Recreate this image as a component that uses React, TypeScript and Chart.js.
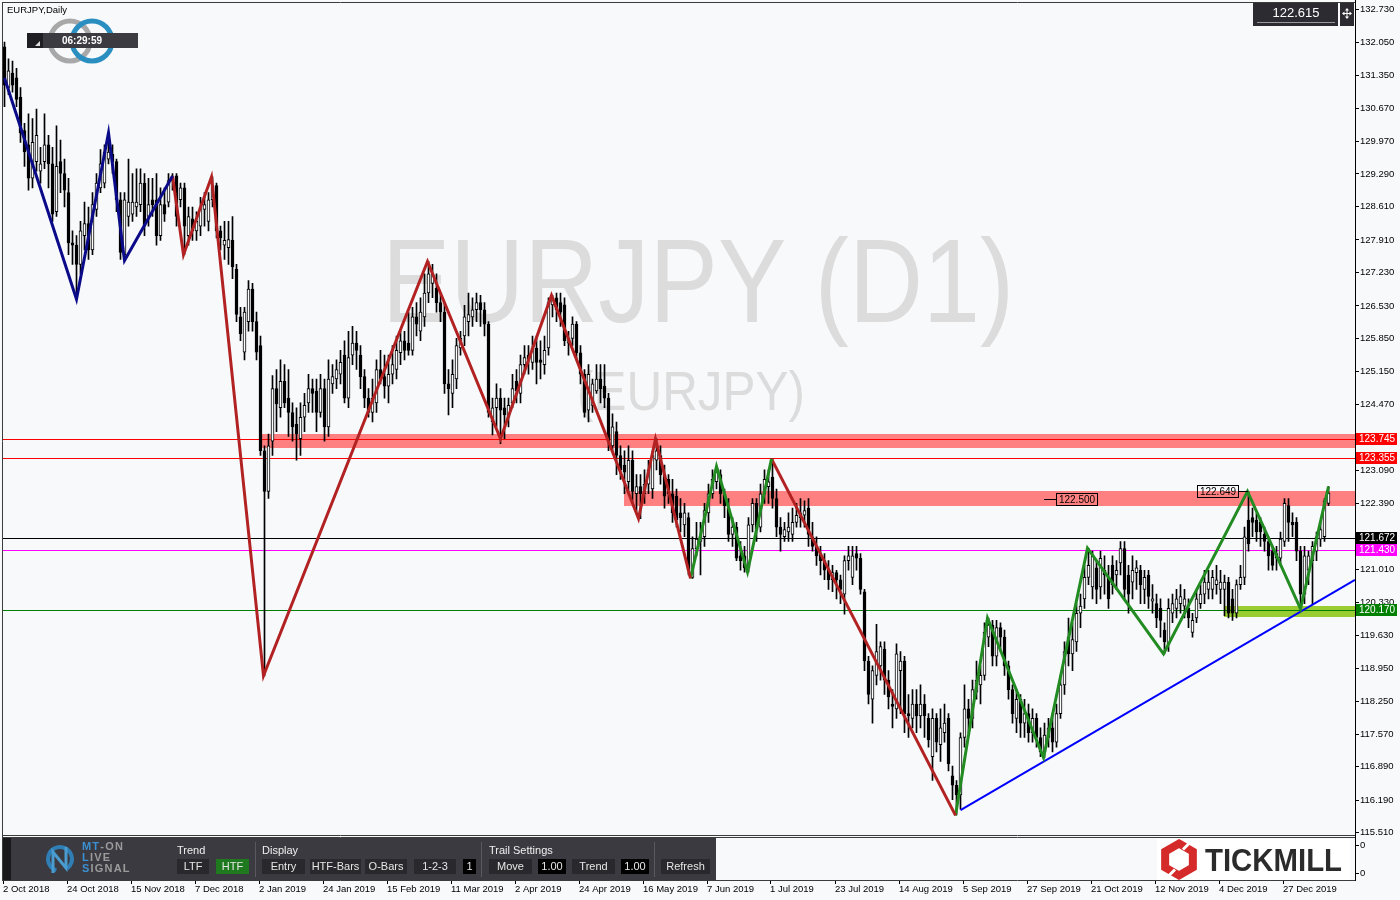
import React, { useEffect, useRef } from "react";
import { Chart, registerables } from "chart.js";

Chart.register(...registerables);

const symbolTitle = "EURJPY,Daily";
const watermarkMain = "EURJPY (D1)";
const watermarkSub = "(EURJPY)";
const clockText = "06:29:59";

// Daily candles, bar index 0 = 2 Oct 2018
const opens = [
  131.95,131.10,131.40,131.30,130.90,130.20,129.90,129.20,129.55,129.35,
  129.55,129.90,129.50,128.50,129.55,129.30,128.90,127.85,127.80,127.40,
  128.00,128.25,127.70,128.55,129.00,129.10,129.60,129.70,129.55,128.75,
  127.60,128.40,128.45,128.60,128.65,129.10,128.40,128.75,128.75,128.00,
  128.65,128.70,129.15,129.25,128.75,129.00,128.00,128.35,128.10,128.20,
  128.55,128.30,128.75,129.05,128.10,127.80,127.75,127.90,127.30,126.30,
  125.56,126.20,126.88,126.20,125.70,123.50,122.65,123.70,124.80,124.40,
  124.95,124.60,124.30,124.05,123.75,124.20,124.50,124.80,124.75,124.30,
  124.80,124.00,124.90,125.00,125.10,125.50,124.60,125.50,125.75,125.50,
  125.05,124.60,124.30,124.50,125.20,125.05,124.85,125.10,125.20,125.55,
  125.80,125.75,125.60,126.30,126.00,126.30,126.80,127.00,126.90,126.60,
  126.40,124.90,124.70,125.00,125.65,125.90,126.20,126.30,126.45,126.60,
  126.45,126.15,124.10,124.40,124.60,124.40,124.20,124.50,124.95,124.70,
  125.30,125.50,125.35,125.65,125.40,125.30,125.65,126.55,126.70,126.60,
  126.55,125.75,125.85,126.15,125.55,125.10,124.35,124.45,124.75,125.00,
  124.85,124.60,123.60,123.90,123.40,123.20,122.85,123.30,122.60,122.75,
  122.60,122.80,122.70,123.30,123.40,123.00,122.90,122.60,122.55,122.20,
  121.95,122.10,120.85,121.45,121.60,121.70,122.20,122.60,122.85,123.00,
  122.60,122.30,121.75,121.90,121.30,121.30,121.05,121.95,122.40,121.90,
  122.60,122.75,122.95,122.50,121.90,121.70,121.80,121.75,122.00,122.10,
  122.15,122.30,121.70,121.50,121.35,121.20,121.00,120.80,120.95,120.80,
  120.50,121.20,120.85,121.35,121.25,120.55,119.10,118.30,118.80,119.00,
  119.35,118.70,118.20,118.10,118.90,119.10,118.00,117.90,118.20,117.95,
  118.20,117.90,117.10,117.90,117.35,117.60,117.90,116.70,116.50,116.30,
  117.50,118.10,117.90,118.45,118.60,118.80,119.60,119.85,119.20,119.80,
  119.60,119.00,118.50,117.90,118.30,117.80,118.00,117.60,117.90,117.50,
  117.20,117.50,117.70,117.40,118.00,118.60,119.60,119.25,119.50,120.10,
  120.40,120.85,120.65,121.05,120.65,121.00,120.85,121.10,120.90,121.15,
  121.45,120.90,120.75,120.95,121.00,120.60,120.90,120.35,120.30,120.20,
  119.75,119.45,120.10,120.20,120.30,120.25,120.20,119.70,120.00,120.30,
  120.50,120.60,120.60,120.70,120.60,120.60,120.75,120.40,120.10,120.70,
  120.85,122.05,122.10,122.05,122.00,121.75,121.60,121.40,121.35,121.25,
  121.60,122.35,122.00,122.00,121.40,120.50,121.00,121.20,121.40,121.65,
  121.70,122.40,
];
const highs = [
  132.05,131.70,131.65,131.50,131.10,130.35,130.55,130.45,130.65,129.85,
  130.55,130.10,129.85,130.30,130.00,129.60,129.20,128.10,128.00,128.30,
  128.70,128.60,128.90,129.30,129.80,129.90,130.15,129.90,129.60,128.90,
  128.90,129.60,129.30,129.40,129.40,129.30,129.20,129.20,129.30,129.00,
  129.00,129.30,129.30,129.30,129.10,129.10,128.60,128.60,128.50,128.80,
  128.90,128.90,129.23,129.10,128.20,128.30,128.30,128.40,127.40,126.50,
  126.50,127.06,127.00,126.40,125.90,123.60,123.85,125.07,125.20,125.40,
  125.30,125.20,124.50,124.40,124.50,124.70,125.10,125.00,125.00,125.10,
  125.00,125.40,125.30,125.40,125.60,125.80,126.00,126.10,126.00,125.70,
  125.20,124.80,125.00,125.40,125.60,125.50,125.50,125.70,125.90,126.00,
  126.00,126.40,126.50,126.60,126.70,127.20,127.46,127.40,127.20,126.80,
  126.60,125.20,125.40,125.85,126.00,126.54,126.80,126.70,126.80,126.75,
  126.60,126.20,124.60,124.90,124.80,124.60,124.60,125.10,125.20,125.50,
  125.70,125.70,125.90,125.90,125.80,125.90,126.70,126.75,126.80,126.80,
  126.70,126.00,126.30,126.20,125.70,125.20,125.30,125.00,125.30,125.30,
  125.30,124.70,124.27,124.10,123.60,123.50,123.60,123.50,123.00,123.00,
  123.10,123.30,123.50,123.75,123.60,123.20,123.00,122.90,122.70,122.50,
  122.40,122.20,121.70,122.00,122.00,122.40,122.80,123.10,123.17,123.10,
  122.70,122.50,122.10,122.00,121.60,121.50,122.10,122.50,122.50,122.80,
  123.10,123.10,123.33,122.70,122.10,122.00,122.20,122.30,122.40,122.50,
  122.45,122.50,122.00,121.70,121.50,121.35,121.20,121.10,121.00,120.90,
  121.30,121.50,121.50,121.50,121.35,120.60,119.20,119.00,119.87,119.50,
  119.50,118.90,118.50,119.46,119.30,119.20,118.40,118.50,118.50,118.60,
  118.40,118.00,118.10,118.00,118.10,118.20,118.00,116.90,116.60,117.60,
  118.60,118.30,118.70,119.10,119.00,119.90,120.00,119.95,119.95,119.90,
  119.75,119.10,118.60,118.50,118.40,118.30,118.20,118.10,118.00,117.70,
  117.80,117.90,118.00,118.20,118.80,119.50,120.00,119.90,120.30,120.50,
  121.10,121.46,121.40,121.20,121.40,121.30,121.10,121.30,121.20,121.60,
  121.60,121.10,121.30,121.20,121.10,121.00,121.00,120.70,120.50,120.40,
  119.90,120.40,120.50,120.60,120.70,120.60,120.40,120.10,120.60,120.70,
  121.00,121.00,121.00,121.10,121.00,120.90,120.85,120.60,120.80,121.10,
  121.90,122.65,122.30,122.20,122.10,121.90,121.70,121.50,121.50,121.80,
  122.50,122.50,122.20,122.10,121.50,121.50,121.40,121.60,121.80,122.00,
  122.50,122.75,
];
const lows = [
  130.70,130.95,131.00,130.70,129.95,129.45,128.95,129.00,129.35,129.10,
  129.40,129.00,128.30,128.40,128.90,128.60,127.60,127.40,126.67,127.20,
  127.70,127.50,127.60,128.40,128.90,129.00,129.50,129.30,128.50,127.50,
  127.48,128.20,128.30,128.40,128.50,128.00,128.20,128.40,127.80,127.90,
  128.30,128.60,128.95,128.20,128.60,127.60,127.80,127.90,127.90,128.00,
  128.20,128.10,128.60,127.95,127.70,127.50,127.40,127.10,126.20,125.80,
  125.40,126.00,126.00,125.40,123.40,118.79,122.50,123.40,123.90,124.20,
  124.40,123.80,123.70,123.30,123.40,123.90,124.30,124.30,123.90,124.20,
  123.70,123.80,124.70,124.80,124.90,124.50,124.40,125.30,125.20,124.80,
  124.40,124.20,124.10,124.30,124.90,124.60,124.50,124.90,125.00,125.30,
  125.40,125.50,125.50,125.90,125.80,126.10,126.60,126.70,126.40,126.20,
  124.70,124.25,124.40,124.80,125.50,125.70,125.90,126.10,126.20,126.10,
  125.90,124.20,123.83,124.00,123.65,123.75,124.00,124.40,124.50,124.50,
  125.10,125.10,125.20,124.90,125.00,125.10,125.50,126.30,126.20,126.10,
  125.70,125.50,125.70,125.40,124.90,124.20,124.10,124.30,124.70,124.50,
  124.40,123.50,123.50,123.00,122.90,122.60,122.60,122.40,122.20,122.08,
  122.40,122.60,122.50,123.10,122.80,122.30,122.40,122.00,121.90,121.80,
  121.70,120.90,120.83,121.30,120.90,121.50,122.00,122.50,122.70,122.40,
  122.10,121.60,121.50,121.20,121.00,120.96,120.96,121.80,121.60,121.80,
  122.40,122.40,122.30,121.70,121.40,121.60,121.60,121.60,121.90,121.90,
  121.90,121.50,121.40,121.10,120.90,120.80,120.60,120.55,120.40,120.30,
  120.08,121.00,120.70,121.00,120.50,118.90,118.20,117.80,118.60,118.70,
  118.40,118.10,117.70,117.90,118.00,117.60,117.50,117.70,117.60,117.70,
  117.50,117.30,116.60,117.20,117.00,117.40,116.80,116.20,115.88,116.00,
  117.30,117.60,117.70,118.30,118.20,118.70,119.40,119.00,119.00,119.30,
  118.80,118.30,117.80,117.60,117.50,117.50,117.40,117.40,117.30,117.10,
  117.08,117.30,117.20,117.30,117.90,118.40,119.00,118.90,119.30,119.80,
  120.20,120.70,120.40,120.30,120.40,120.50,120.20,120.50,120.60,120.90,
  120.40,120.10,120.40,120.60,120.30,120.30,120.20,120.10,119.80,119.60,
  119.25,119.30,119.90,120.00,120.10,120.00,119.80,119.60,119.90,120.20,
  120.30,120.40,120.40,120.50,120.30,120.05,120.00,119.95,120.00,120.60,
  120.70,121.40,121.70,121.60,121.50,121.40,121.00,121.00,121.00,121.10,
  121.50,121.60,121.70,121.20,120.19,120.30,120.70,120.30,121.20,121.50,
  121.60,122.35,
];
const closes = [
  131.15,131.45,131.15,130.85,130.15,129.75,129.20,129.95,130.10,129.50,
  129.90,129.50,128.45,129.45,129.30,128.95,127.85,127.80,127.40,128.10,
  128.25,127.70,128.65,129.10,129.50,129.75,129.75,129.55,128.75,127.65,
  128.75,128.70,128.70,128.70,129.10,128.20,128.65,128.65,128.00,128.65,
  128.45,129.15,129.20,128.40,129.00,128.20,128.40,128.10,128.30,128.60,
  128.65,128.75,129.05,128.10,127.95,127.90,127.92,127.35,126.35,125.95,
  126.40,126.88,126.20,125.56,123.50,122.65,123.60,124.80,124.48,124.95,
  124.50,124.30,124.00,123.85,124.20,124.45,124.80,124.70,124.30,124.80,
  124.00,125.00,125.05,125.20,125.35,124.60,125.45,125.75,125.60,125.05,
  124.60,124.30,124.60,125.20,125.00,124.85,125.10,125.30,125.60,125.80,
  125.60,125.60,126.30,126.15,126.40,126.80,127.20,127.20,126.60,126.40,
  124.90,124.80,125.10,125.70,125.85,126.30,126.35,126.45,126.60,126.45,
  126.15,124.30,124.40,124.60,124.35,124.25,124.45,124.80,124.75,125.30,
  125.45,125.40,125.65,125.35,125.35,125.60,126.60,126.70,126.45,126.40,
  125.80,125.85,126.15,125.55,125.10,124.30,125.10,124.90,125.00,124.80,
  124.60,123.70,124.00,123.40,123.10,123.05,123.30,122.65,122.75,122.60,
  122.80,123.10,123.40,123.50,123.00,122.55,122.60,122.20,122.05,122.10,
  122.20,121.00,121.45,121.65,121.70,122.25,122.60,122.90,123.05,122.60,
  122.35,121.75,121.90,121.25,121.20,121.05,121.95,122.40,121.85,122.60,
  122.90,122.85,122.50,121.90,121.75,121.85,121.90,122.00,122.15,122.20,
  122.25,121.75,121.50,121.30,121.20,121.00,120.80,120.95,120.80,120.60,
  121.20,121.30,121.30,121.25,120.60,119.10,118.40,118.90,119.30,119.40,
  118.70,118.35,118.15,119.25,119.10,118.00,117.95,118.20,117.95,118.20,
  117.95,117.45,117.90,117.40,117.70,117.80,116.95,116.50,116.30,117.50,
  118.10,117.90,118.50,118.70,118.80,119.70,119.85,119.20,119.80,119.60,
  119.00,118.50,118.00,118.30,117.80,118.00,117.60,117.90,117.50,117.20,
  117.55,117.70,117.40,118.00,118.60,119.30,119.25,119.55,120.10,120.25,
  120.85,121.10,121.30,120.60,121.25,120.90,120.40,120.70,121.00,121.45,
  120.60,120.50,121.00,121.05,120.70,120.85,120.45,120.40,120.00,119.95,
  119.50,120.20,120.30,120.40,120.45,120.40,120.00,119.95,120.40,120.50,
  120.75,120.75,120.85,120.80,120.75,120.75,120.10,120.10,120.70,120.85,
  121.70,121.55,122.00,121.80,121.80,121.60,121.30,121.10,121.25,121.65,
  122.40,122.00,121.95,121.40,120.50,121.30,121.30,121.50,121.70,121.85,
  122.45,122.615,
];

// Right price axis tick labels
const yTicks = [
  132.73, 132.05, 131.35, 130.67, 129.97, 129.29, 128.61, 127.91, 127.23, 126.53,
  125.85, 125.15, 124.47, 123.79, 123.09, 122.39, 121.69, 121.01, 120.33, 119.63,
  118.95, 118.25, 117.57, 116.89, 116.19, 115.51,
];

// Date axis labels (every 16 bars)
const dateBars = [0, 16, 32, 48, 64, 80, 96, 112, 128, 144, 160, 176, 192, 208, 224, 240, 256, 272, 288, 304, 320];
const dateLabels = [
  "2 Oct 2018", "24 Oct 2018", "15 Nov 2018", "7 Dec 2018", "2 Jan 2019", "24 Jan 2019",
  "15 Feb 2019", "11 Mar 2019", "2 Apr 2019", "24 Apr 2019", "16 May 2019", "7 Jun 2019",
  "1 Jul 2019", "23 Jul 2019", "14 Aug 2019", "5 Sep 2019", "27 Sep 2019", "21 Oct 2019",
  "12 Nov 2019", "4 Dec 2019", "27 Dec 2019",
];

// ZigZag swing points (bar index, price)
const blueZigBars = [0, 18, 26, 30, 42];
const blueZigPrices = [131.3, 126.67, 130.15, 127.48, 129.25];
const redZig1Bars = [42, 44.75, 51.75, 64.75, 105.75, 124, 136.75, 158.5, 162.75, 171.5];
const redZig1Prices = [129.25, 127.6, 129.23, 118.79, 127.46, 123.75, 126.75, 122.08, 123.75, 120.83];
const greenZig1Bars = [171.5, 178, 185.75, 191.75];
const greenZig1Prices = [120.83, 123.17, 120.96, 123.33];
const redZig2Bars = [191.75, 237.75];
const redZig2Prices = [123.33, 115.87];
const greenZig2Bars = [237.75, 245.75, 259.75, 270.75, 289.75, 310.75, 324, 331];
const greenZig2Prices = [115.87, 120.0, 117.08, 121.46, 119.25, 122.65, 120.19, 122.75];

// Support trend line
const trendBars = [239, 337.625];
const trendPrices = [115.98, 120.8];

// Horizontal levels
const levelPrices = [123.745, 123.355, 121.672, 121.43, 120.17];
const levelColors = ["#ff0000", "#ff0000", "#000000", "#ff00ff", "#008000"];

// Zones
const zoneStartBars = [63.75, 154.75, 304.75];
const zoneHighs = [123.855, 122.647, 120.25];
const zoneLows = [123.55, 122.34, 120.02];
const zoneColors = ["#ff8080", "#ff8080", "#9acd32"];

// Price tags
const tagPrices = [122.5, 122.649];
const tagBars = [259.75, 310.75];
const tagSides = ["right", "left"];

const BG = "#f8f9fb";
const FONT = '"Liberation Sans", Arial, Helvetica, sans-serif';

function fitText(ctx: any, s: string, cx: number, baseline: number, size: number, width: number, weight = "normal") {
  ctx.save();
  ctx.font = `${weight} ${size}px ${FONT}`;
  ctx.textAlign = "left";
  ctx.textBaseline = "alphabetic";
  const w = ctx.measureText(s).width;
  ctx.translate(cx - width / 2, baseline);
  ctx.scale(width / w, 1);
  ctx.fillText(s, 0, 0);
  ctx.restore();
}

function button(ctx: any, x: number, y: number, w: number, h: number, s: string, bg: string, fg = "#e6e6e6") {
  ctx.fillStyle = bg;
  ctx.fillRect(x, y, w, h);
  ctx.fillStyle = fg;
  ctx.font = `11px ${FONT}`;
  ctx.textAlign = "center";
  ctx.textBaseline = "middle";
  ctx.fillText(s, x + w / 2, y + h / 2 + 0.5);
}

function hline(ctx: any, x0: number, x1: number, y: number, color: string) {
  ctx.strokeStyle = color;
  ctx.lineWidth = 1;
  ctx.beginPath();
  ctx.moveTo(x0, y);
  ctx.lineTo(x1, y);
  ctx.stroke();
}
function vline(ctx: any, x: number, y0: number, y1: number, color: string) {
  ctx.strokeStyle = color;
  ctx.lineWidth = 1;
  ctx.beginPath();
  ctx.moveTo(x, y0);
  ctx.lineTo(x, y1);
  ctx.stroke();
}

const mt4Plugin = {
  id: "mt4Overlay",
  beforeDraw(chart: any) {
    const ctx = chart.ctx;
    ctx.save();
    ctx.fillStyle = BG;
    ctx.fillRect(0, 0, chart.width, chart.height);
    ctx.fillStyle = "#dcdcdc";
    fitText(ctx, watermarkMain, 698, 322, 118, 632);
    fitText(ctx, watermarkSub, 691, 410, 56, 228);
    ctx.restore();
  },
  beforeDatasetsDraw(chart: any) {
    const { ctx, chartArea: a, scales } = chart;
    const x = scales.x, y = scales.y;
    ctx.save();
    ctx.beginPath();
    ctx.rect(a.left, a.top, a.right - a.left, a.bottom - a.top);
    ctx.clip();
    for (let i = 0; i < zoneStartBars.length; i++) {
      const x0 = Math.round(x.getPixelForValue(zoneStartBars[i]));
      const y0 = Math.round(y.getPixelForValue(zoneHighs[i]));
      const y1 = Math.round(y.getPixelForValue(zoneLows[i]));
      ctx.fillStyle = zoneColors[i];
      ctx.fillRect(x0, y0, a.right - x0, y1 - y0);
    }
    for (let i = 0; i < levelPrices.length; i++) {
      const yy = Math.round(y.getPixelForValue(levelPrices[i])) + 0.5;
      hline(ctx, a.left, a.right, yy, levelColors[i]);
    }
    ctx.restore();
  },
  afterDatasetsDraw(chart: any) {
    const { ctx, scales } = chart;
    const x = scales.x, y = scales.y;
    ctx.save();
    for (let i = 0; i < tagPrices.length; i++) {
      const px = Math.round(x.getPixelForValue(tagBars[i]));
      const py = Math.round(y.getPixelForValue(tagPrices[i])) + 0.5;
      const w = 41, h = 12;
      let bx;
      if (tagSides[i] === "right") {
        hline(ctx, px, px + 12, py, "#000");
        bx = px + 12;
      } else {
        hline(ctx, px - 10, px, py, "#000");
        bx = px - 10 - w;
      }
      ctx.strokeStyle = "#000";
      ctx.strokeRect(bx + 0.5, py - h / 2, w, h);
      ctx.fillStyle = "#000";
      ctx.font = `10px ${FONT}`;
      ctx.textAlign = "center";
      ctx.textBaseline = "middle";
      ctx.fillText(tagPrices[i].toFixed(3), bx + w / 2 + 0.5, py + 0.5);
    }
    ctx.restore();
  },
  afterDraw(chart: any) {
    const { ctx, scales } = chart;
    const x = scales.x, y = scales.y;
    ctx.save();

    // title
    ctx.fillStyle = "#000";
    ctx.font = `9.5px ${FONT}`;
    ctx.textAlign = "left";
    ctx.textBaseline = "middle";
    ctx.fillText(symbolTitle, 7, 10);

    // logo rings
    ctx.lineWidth = 5;
    ctx.strokeStyle = "#a8a8a8";
    ctx.beginPath();
    ctx.arc(70, 41, 20, 0, Math.PI * 2);
    ctx.stroke();
    ctx.strokeStyle = "#2a8fc0";
    ctx.beginPath();
    ctx.arc(92, 41, 20, 0, Math.PI * 2);
    ctx.stroke();

    // clock box
    ctx.fillStyle = "#3c3b41";
    ctx.fillRect(27, 33, 111, 15);
    ctx.fillStyle = "#1f1f23";
    ctx.fillRect(27, 33, 16, 15);
    ctx.fillStyle = "#e0e0e0";
    ctx.beginPath();
    ctx.moveTo(40, 46);
    ctx.lineTo(40, 41);
    ctx.lineTo(35, 46);
    ctx.closePath();
    ctx.fill();
    ctx.fillStyle = "#ffffff";
    ctx.font = `bold 10px ${FONT}`;
    ctx.textAlign = "center";
    ctx.fillText(clockText, 82, 41);

    // current price box
    ctx.fillStyle = "#2c2b31";
    ctx.fillRect(1253, 3, 85, 23);
    ctx.fillRect(1340, 3, 14, 23);
    hline(ctx, 1257, 1335, 22.5, "#9a9a9a");
    ctx.fillStyle = "#ffffff";
    ctx.font = `13px ${FONT}`;
    ctx.textAlign = "center";
    ctx.textBaseline = "middle";
    ctx.fillText(closes[closes.length - 1].toFixed(3), 1296, 13.5);
    // move icon
    ctx.fillStyle = "#ffffff";
    ctx.fillRect(1343, 13, 8, 1);
    ctx.fillRect(1346.5, 9.5, 1, 8);
    ctx.beginPath();
    ctx.moveTo(1347, 8); ctx.lineTo(1345, 10.5); ctx.lineTo(1349, 10.5); ctx.closePath(); ctx.fill();
    ctx.beginPath();
    ctx.moveTo(1347, 19); ctx.lineTo(1345, 16.5); ctx.lineTo(1349, 16.5); ctx.closePath(); ctx.fill();
    ctx.beginPath();
    ctx.moveTo(1342, 13.5); ctx.lineTo(1344.5, 11.5); ctx.lineTo(1344.5, 15.5); ctx.closePath(); ctx.fill();
    ctx.beginPath();
    ctx.moveTo(1352, 13.5); ctx.lineTo(1349.5, 11.5); ctx.lineTo(1349.5, 15.5); ctx.closePath(); ctx.fill();

    // coloured level labels on the price axis
    for (let i = 0; i < levelPrices.length; i++) {
      const yy = Math.round(y.getPixelForValue(levelPrices[i]));
      ctx.fillStyle = levelColors[i];
      ctx.fillRect(1356, yy - 6, 41, 12);
      ctx.fillStyle = "#ffffff";
      ctx.font = `10px ${FONT}`;
      ctx.textAlign = "left";
      ctx.textBaseline = "middle";
      ctx.fillText(levelPrices[i].toFixed(3), 1359, yy + 0.5);
    }

    // indicator panel
    ctx.fillStyle = "#3b3a40";
    ctx.fillRect(3, 838, 713, 42);
    ctx.fillStyle = "#18181a";
    ctx.fillRect(3, 838, 8, 42);
    // MT-ON icon
    ctx.strokeStyle = "#2f7fb6";
    ctx.lineWidth = 4;
    ctx.beginPath();
    ctx.arc(60, 859, 12, Math.PI * 0.6, Math.PI * 2.3);
    ctx.stroke();
    ctx.lineWidth = 3;
    ctx.strokeStyle = "#4a9bd0";
    ctx.beginPath();
    ctx.moveTo(53, 873);
    ctx.lineTo(53, 852);
    ctx.lineTo(66, 868);
    ctx.lineTo(66, 847);
    ctx.stroke();
    const blue = "#3b8fd1", gray = "#9b9b9b";
    ctx.font = `bold 11px ${FONT}`;
    ctx.textAlign = "left";
    ctx.textBaseline = "middle";
    const spaced = (s: string, cols: string[], x0: number, yy: number) => {
      let cx = x0;
      for (let k = 0; k < s.length; k++) {
        ctx.fillStyle = cols[k];
        ctx.fillText(s[k], cx, yy);
        cx += ctx.measureText(s[k]).width + 1.2;
      }
    };
    spaced("MT-ON", [blue, blue, gray, gray, gray], 82, 847);
    spaced("LIVE", [blue, gray, gray, gray], 82, 858);
    spaced("SIGNAL", [blue, gray, gray, gray, gray, gray], 82, 869);

    ctx.fillStyle = "#f0f0f0";
    ctx.font = `11px ${FONT}`;
    ctx.fillText("Trend", 177, 851);
    ctx.fillText("Display", 262, 851);
    ctx.fillText("Trail Settings", 489, 851);
    const btnBg = "#29282d";
    button(ctx, 177, 859, 32, 15, "LTF", btnBg);
    button(ctx, 216, 859, 33, 15, "HTF", "#1f7a1f");
    button(ctx, 262, 859, 43, 15, "Entry", btnBg);
    button(ctx, 310, 859, 51, 15, "HTF-Bars", btnBg);
    button(ctx, 365, 859, 42, 15, "O-Bars", btnBg);
    button(ctx, 414, 859, 42, 15, "1-2-3", btnBg);
    button(ctx, 463, 859, 13, 15, "1", "#000000");
    button(ctx, 489, 859, 43, 15, "Move", btnBg);
    button(ctx, 538, 859, 28, 15, "1.00", "#000000");
    button(ctx, 572, 859, 43, 15, "Trend", btnBg);
    button(ctx, 621, 859, 28, 15, "1.00", "#000000");
    button(ctx, 661, 859, 49, 15, "Refresh", btnBg);
    vline(ctx, 255.5, 842, 877, "#5a595f");
    vline(ctx, 481.5, 842, 877, "#5a595f");
    vline(ctx, 654.5, 842, 877, "#5a595f");

    // Tickmill logo
    ctx.fillStyle = "#ffffff";
    ctx.fillRect(1157, 839, 193, 41);
    const hx = 1179, hy = 859.5, hr = 16;
    ctx.strokeStyle = "#d42a2a";
    ctx.lineWidth = 8;
    ctx.lineJoin = "miter";
    ctx.beginPath();
    for (let k = 0; k < 6; k++) {
      const ang = -Math.PI / 2 + (k * Math.PI) / 3;
      const px = hx + hr * Math.cos(ang), py = hy + hr * Math.sin(ang);
      if (k === 0) ctx.moveTo(px, py); else ctx.lineTo(px, py);
    }
    ctx.closePath();
    ctx.stroke();
    ctx.strokeStyle = "#ffffff";
    ctx.lineWidth = 3;
    ctx.beginPath();
    ctx.moveTo(hx + 4, hy - 10); ctx.lineTo(hx + 13, hy - 19);
    ctx.moveTo(hx - 4, hy + 10); ctx.lineTo(hx - 13, hy + 19);
    ctx.stroke();
    ctx.fillStyle = "#2b2b2b";
    fitText(ctx, "TICKMILL", 1273.5, 871, 31, 137, "bold");

    // frame
    hline(ctx, 2, 1356, 2.5, "#3c3c3c");
    vline(ctx, 2.5, 2, 881, "#3c3c3c");
    hline(ctx, 2, 1356, 835.5, "#3c3c3c");
    hline(ctx, 2, 1356, 837.5, "#3c3c3c");
    hline(ctx, 2, 1356, 880.5, "#3c3c3c");
    vline(ctx, 1355.5, 0, 881, "#000000");

    // panel axis labels
    ctx.fillStyle = "#000";
    ctx.font = `9.5px ${FONT}`;
    ctx.textAlign = "left";
    ctx.textBaseline = "middle";
    ctx.fillText("0", 1360, 845);
    ctx.fillText("0", 1360, 873);
    hline(ctx, 1355, 1359, 845.5, "#000");
    hline(ctx, 1355, 1359, 873.5, "#000");

    // date axis
    for (let k = 0; k < dateBars.length; k++) {
      const xx = Math.round(x.getPixelForValue(dateBars[k])) - 2;
      vline(ctx, xx + 0.5, 881, 884, "#000");
      ctx.fillStyle = "#000";
      ctx.fillText(dateLabels[k], xx, 889);
    }
    ctx.restore();
  },
};

export default function App() {
  const ref = useRef<HTMLCanvasElement | null>(null);

  useEffect(() => {
    document.body.style.margin = "0";
    const canvas = ref.current;
    if (!canvas) return;
    const idx = opens.map((_, i) => i);
    const line = (bars: number[], prices: number[], color: string, width: number) => ({
      type: "line",
      data: bars.map((b, i) => ({ x: b, y: prices[i] })),
      borderColor: color,
      borderWidth: width,
      pointRadius: 0,
      tension: 0,
      fill: false,
      order: 1,
    });
    const chart = new Chart(canvas, {
      type: "bar",
      data: {
        datasets: [
          {
            type: "bar",
            data: idx.map((i) => ({ x: i, y: [lows[i], highs[i]] })),
            backgroundColor: "#000000",
            borderWidth: 0,
            barThickness: 1,
            grouped: false,
            order: 3,
          },
          {
            type: "bar",
            data: idx.map((i) => ({ x: i, y: [opens[i], closes[i]] })),
            backgroundColor: idx.map((i) => (closes[i] >= opens[i] ? "#ffffff" : "#000000")),
            borderColor: "#000000",
            borderWidth: 1,
            borderSkipped: false,
            barThickness: 3,
            minBarLength: 1,
            grouped: false,
            order: 2,
          },
          line(blueZigBars, blueZigPrices, "#0b0b8a", 3),
          line(redZig1Bars, redZig1Prices, "#b22222", 3),
          line(greenZig1Bars, greenZig1Prices, "#228b22", 3),
          line(redZig2Bars, redZig2Prices, "#b22222", 3),
          line(greenZig2Bars, greenZig2Prices, "#228b22", 3),
          line(trendBars, trendPrices, "#0000ff", 2),
        ] as any,
      },
      options: {
        animation: false,
        responsive: false,
        maintainAspectRatio: false,
        events: [],
        layout: { padding: { left: 3, top: 3, right: 0, bottom: 65 } },
        plugins: { legend: { display: false }, tooltip: { enabled: false } },
        scales: {
          x: { type: "linear", min: -0.375, max: 337.625, offset: false, display: false },
          y: {
            position: "right",
            min: 115.46,
            max: 132.79,
            afterFit: (s: any) => {
              s.width = 45;
            },
            afterBuildTicks: (s: any) => {
              s.ticks = yTicks.map((v) => ({ value: v }));
            },
            ticks: {
              autoSkip: false,
              padding: 1,
              color: "#000000",
              font: { family: '"Liberation Sans", Arial, sans-serif', size: 9.5 },
              callback: (v: any) => Number(v).toFixed(3),
            },
            grid: { drawOnChartArea: false, tickLength: 4, color: "#000000" },
            border: { color: "#000000" },
          },
        },
      } as any,
      plugins: [mt4Plugin],
    });
    return () => chart.destroy();
  }, []);

  return (
    <div style={{ width: 1400, height: 900, position: "relative" }}>
      <canvas ref={ref} width={1400} height={900} style={{ display: "block" }} />
    </div>
  );
}
